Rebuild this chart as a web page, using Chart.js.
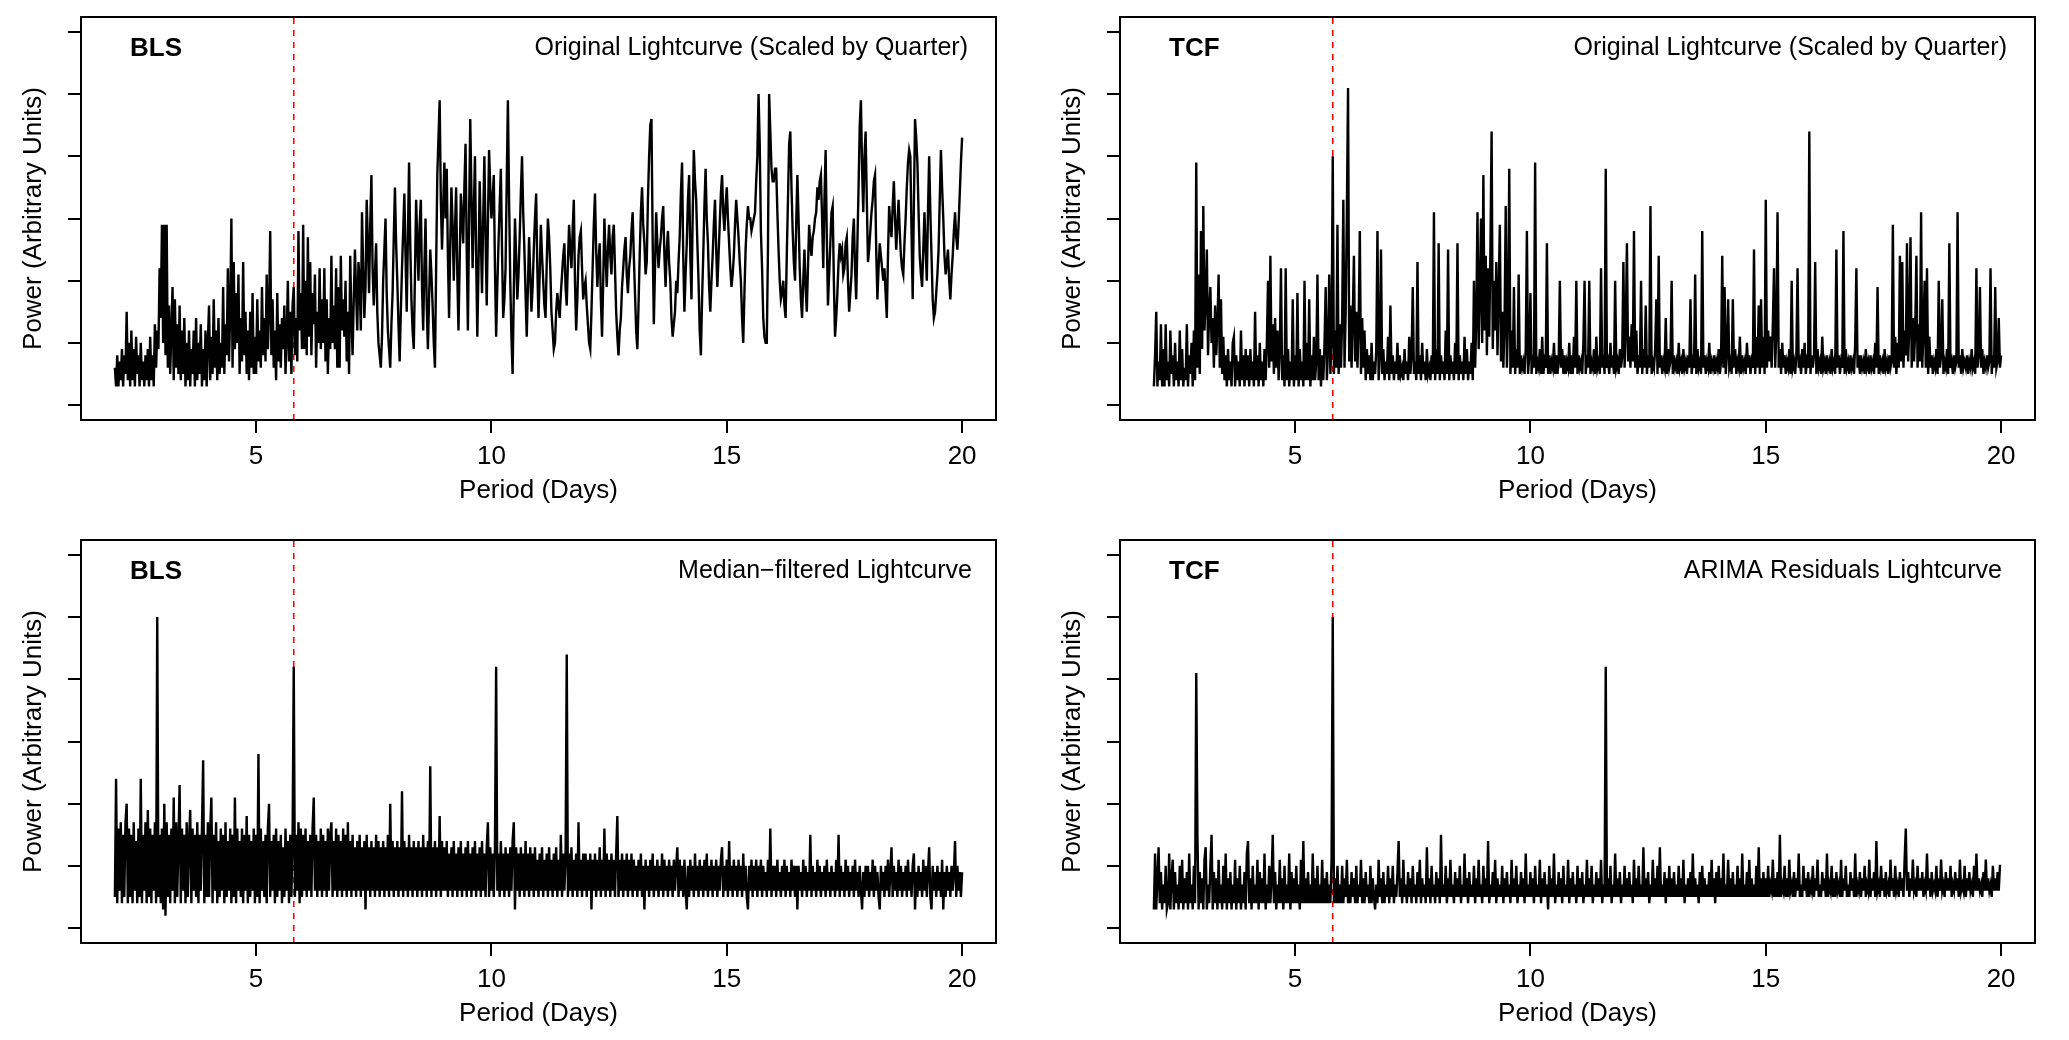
<!DOCTYPE html>
<html>
<head>
<meta charset="utf-8">
<script src="https://cdn.jsdelivr.net/npm/chart.js@4.4.1/dist/chart.umd.min.js"></script>
<style>
html,body{margin:0;padding:0;background:#fff;overflow:hidden;width:2069px;height:1040px;}
canvas{position:absolute;}
</style>
</head>
<body>
<script>
// ---- data (power in arbitrary units, sampled on a regular period grid starting at PERIOD_START) ----
const PERIOD_START = 2.0;
const PERIOD_STEP = 0.025;
const X_TICKS = [5, 10, 15, 20];
const Y_TICKS = [0, 10, 20, 30, 40, 50, 60];
const TRUE_PERIOD = 5.8;

const blsOriginal = [
6,3,8,3,7,4,9,3,8,5,15,4,10,3,12,4,9,3,11,5,8,3,10,4,7,3,8,4,9,3,11,4,8,3,13,6,12,9,22,14,
29,10,29,8,29,6,16,5,12,19,4,17,6,13,5,16,4,12,5,14,3,10,4,12,3,9,5,12,3,14,4,10,5,13,3,9,4,12,3,10,
16,4,11,5,17,6,12,4,14,5,10,6,19,5,13,8,22,7,15,30,6,23,9,18,10,21,5,14,7,23,8,15,5,12,4,15,6,18,5,11,
5,17,7,12,6,19,8,14,7,21,9,15,28,8,17,6,12,4,18,7,13,6,14,9,16,5,11,20,7,15,5,16,19,8,14,7,28,12,18,9,
29,9,20,8,27,11,23,8,18,13,21,6,15,10,22,9,17,10,22,7,17,5,14,9,24,10,16,9,22,6,19,6,24,12,17,11,20,7,15,5,
24,14,8,17,25,18,12,23,20,12,31,22,14,19,33,26,18,29,37,22,16,21,26,15,10,8,6,11,20,25,30,18,12,9,6,13,18,27,35,26,
20,13,7,15,22,28,34,24,15,27,39,26,17,12,9,21,33,26,20,29,33,19,12,22,30,16,9,17,25,21,16,10,6,22,37,43,49,33,25,32,
39,30,38,24,14,26,35,29,20,28,35,21,12,23,34,30,26,35,42,25,12,30,46,34,22,31,40,24,11,22,36,27,18,30,40,27,16,29,41,35,
30,33,37,22,11,19,26,32,38,25,14,17,22,36,49,33,20,11,5,18,30,24,17,21,27,34,40,31,25,18,11,19,27,21,15,19,25,30,34,22,
14,21,29,24,20,16,14,23,30,27,22,15,12,9,10,15,18,16,14,18,21,24,26,19,16,23,29,25,22,28,33,20,12,17,24,27,28,22,17,19,
20,16,13,10,9,15,22,29,34,25,19,23,26,17,11,20,30,24,19,25,29,24,21,27,29,22,15,11,8,12,14,19,22,25,27,21,18,22,24,28,
31,24,18,12,9,16,24,31,35,29,26,21,23,33,40,45,46,27,13,22,31,26,22,25,27,30,32,24,19,25,28,23,20,14,11,13,15,20,18,23,
27,34,39,24,15,21,26,33,37,24,17,30,41,36,33,26,20,12,8,17,24,32,38,30,26,19,15,20,24,29,33,25,19,24,29,34,37,31,28,32,
35,30,26,22,19,21,24,29,33,30,27,23,20,14,10,18,25,29,32,30,30,28,29,30,31,36,40,50,42,28,22,14,11,10,10,25,50,44,38,36,
36,38,38,31,25,20,17,18,20,16,14,24,33,42,44,35,28,23,20,29,37,30,22,17,14,20,25,19,15,22,29,26,24,27,28,30,31,35,33,36,
37,30,22,33,41,27,16,21,26,31,32,20,11,14,18,23,26,24,25,21,22,26,27,20,15,18,21,27,30,22,17,26,35,45,49,38,31,40,44,33,
23,25,28,31,33,36,37,25,17,22,26,24,22,20,22,18,14,24,32,29,27,32,36,30,25,29,33,28,24,22,21,26,30,35,39,41,40,28,17,32,
46,43,39,31,24,21,19,25,31,25,20,31,40,31,24,17,14,15,18,21,25,33,41,35,30,24,21,23,25,20,17,21,24,28,31,27,25,29,34,39,
43];

const tcfOriginal = [
3,8,15,3,7,4,13,3,9,3,13,4,7,3,12,5,8,3,10,4,7,3,12,4,9,3,6,4,13,3,8,5,10,3,12,4,39,6,21,5,
28,9,32,12,17,25,8,15,19,10,14,6,16,8,13,21,6,17,5,11,4,8,3,9,4,7,3,10,11,3,8,4,7,3,12,4,8,3,9,4,
8,3,9,4,7,3,15,4,8,3,10,4,7,3,9,4,10,20,6,24,7,13,5,14,6,12,4,9,22,4,8,3,22,4,9,3,7,4,17,3,
8,4,18,3,9,4,7,3,20,4,10,4,17,3,8,4,11,4,7,21,4,9,3,8,4,10,19,4,9,21,5,11,40,5,12,6,29,5,13,6,
14,33,6,15,31,51,7,16,6,14,24,7,15,6,13,28,5,14,6,12,4,9,5,8,4,10,4,7,5,9,28,4,8,25,5,9,4,7,5,11,
4,16,5,8,4,7,5,10,4,8,5,6,4,9,5,7,4,11,5,8,19,5,7,4,23,5,8,4,10,5,7,4,9,5,6,4,8,5,31,4,
9,5,26,4,8,5,7,4,12,5,25,4,8,5,7,4,10,5,26,4,8,5,7,4,11,5,9,4,7,5,10,4,20,6,14,31,9,18,30,10,
37,12,24,8,22,11,25,44,9,20,12,23,8,18,29,7,15,6,13,32,6,14,38,5,12,6,19,5,9,6,21,5,8,6,7,5,9,28,5,8,
18,5,8,6,39,5,7,6,9,5,11,5,7,6,26,5,8,5,7,6,10,5,8,5,7,20,6,9,5,8,5,7,6,10,5,8,5,11,6,20,
5,8,6,7,5,10,20,5,8,6,20,5,7,6,9,5,11,6,7,5,22,6,8,5,38,6,7,5,10,6,8,5,20,6,7,5,9,6,8,23,
6,12,26,7,11,6,13,7,28,6,12,5,8,6,20,5,9,6,16,5,8,6,32,5,7,6,9,17,5,24,6,8,5,7,6,14,5,9,6,7,
20,5,8,6,7,5,10,6,7,5,9,6,7,5,8,6,17,5,7,6,21,5,9,6,7,5,28,6,8,5,7,6,10,5,7,6,8,5,7,6,
9,5,7,24,6,19,5,8,17,6,7,5,17,6,9,5,7,6,11,5,8,6,7,5,10,6,8,5,7,6,25,5,11,6,16,5,17,6,11,5,
33,6,12,7,11,6,13,22,6,12,31,6,9,5,10,6,8,5,7,6,9,5,20,6,7,5,8,22,6,7,5,9,6,10,5,7,6,44,5,8,
6,8,23,5,9,6,7,5,11,6,7,5,8,6,7,5,9,6,7,5,25,6,8,5,7,6,28,5,9,6,7,5,8,6,7,5,10,22,6,8,
5,8,6,7,5,9,6,7,5,8,6,7,5,10,6,19,5,8,6,7,5,9,6,7,5,8,6,7,29,6,11,5,10,6,24,7,23,6,12,8,
26,7,13,27,6,14,7,12,24,6,13,7,31,6,12,20,6,22,5,11,6,8,5,7,6,9,5,20,6,8,17,5,7,6,9,5,26,6,7,5,
8,6,7,31,6,8,5,9,6,7,6,8,5,7,6,9,6,7,5,22,6,8,19,6,9,5,7,6,8,6,7,22,5,8,6,19,6,7,14,6,
8];

const blsMedian = [
5,24,4,16,6,17,4,15,5,17,20,4,16,5,15,4,17,6,14,4,16,5,24,4,15,6,17,4,19,5,16,4,15,6,17,4,50,5,15,4,
16,3,20,2,17,5,15,4,16,6,21,4,17,5,14,23,4,16,6,15,4,17,5,14,19,4,16,6,15,5,17,4,15,6,16,27,4,15,5,17,
5,16,21,4,15,6,17,4,14,5,16,6,15,4,17,5,14,6,16,4,15,5,21,4,16,6,14,5,16,4,15,6,18,4,15,5,14,6,16,4,
15,5,28,4,16,6,14,5,15,4,16,20,5,14,6,15,4,16,5,14,6,15,4,13,5,16,6,14,4,15,5,14,42,5,15,6,17,4,16,5,
15,6,16,5,14,6,15,5,16,21,6,15,5,14,6,16,5,15,6,14,5,16,6,15,17,5,14,6,16,5,15,6,14,5,16,6,15,5,17,6,
14,5,15,6,13,5,14,6,15,5,13,6,14,3,15,6,13,5,14,6,13,5,15,6,14,5,13,6,14,5,13,6,15,5,20,6,14,5,13,6,
14,5,13,6,22,5,14,6,13,5,15,6,13,5,14,6,13,5,14,6,13,5,15,6,13,5,14,6,26,5,13,6,14,5,13,6,18,5,14,6,
13,6,14,5,12,6,13,5,14,6,12,5,13,6,14,5,12,6,13,5,14,6,12,5,13,6,14,5,12,6,13,5,14,6,12,5,13,17,5,13,
6,12,5,13,42,6,12,5,14,6,12,5,13,6,12,5,13,6,14,17,3,13,6,12,5,13,6,12,5,14,6,12,5,13,6,12,5,13,6,11,
5,12,6,13,5,11,6,12,5,13,6,11,5,12,6,13,5,11,6,15,5,12,6,11,44,5,12,6,13,5,11,6,12,5,17,6,11,5,12,6,
12,5,11,6,12,3,11,6,12,5,11,6,13,5,11,6,16,5,12,6,11,5,12,6,11,5,12,18,5,11,6,12,5,11,6,12,5,11,6,12,
5,11,6,10,5,11,6,12,5,10,3,11,6,10,5,11,6,12,5,10,6,11,5,10,6,12,5,11,6,10,5,11,6,10,5,11,6,10,13,5,
11,6,10,5,11,6,3,10,5,11,6,10,5,12,6,10,5,11,6,10,5,11,6,12,5,10,6,11,5,10,6,11,5,10,6,11,13,5,10,6,
11,5,14,6,10,5,11,6,10,5,11,6,10,5,12,6,10,5,3,10,6,11,5,10,6,11,5,10,6,11,5,10,6,9,5,11,6,16,5,10,
6,10,5,11,6,9,5,10,6,11,5,10,6,9,5,11,6,10,5,10,3,10,6,9,5,11,6,10,5,9,6,15,5,10,6,9,5,11,6,10,
5,9,6,10,5,11,6,9,5,10,6,9,5,11,6,15,5,10,6,9,5,11,6,10,5,9,6,10,5,11,6,9,5,10,6,3,9,5,10,6,
10,5,9,6,11,5,10,6,9,5,3,10,6,9,5,10,6,11,5,9,13,5,10,6,9,5,11,6,10,5,9,6,10,5,11,6,9,5,10,12,
3,9,5,10,6,9,5,11,6,10,5,9,13,5,3,10,6,9,5,10,6,9,5,11,3,9,5,10,6,9,5,10,6,9,14,5,10,6,9,5,
9];

const tcfArima = [
3,12,3,8,13,4,9,3,7,4,10,3,4,12,3,8,11,3,9,4,7,3,10,4,11,3,8,4,9,3,12,4,7,3,10,4,41,15,3,9,
4,8,3,11,13,3,7,4,10,15,3,9,4,8,3,11,4,7,3,10,4,12,3,8,4,9,3,7,4,11,3,8,4,10,3,7,4,9,3,12,
14,4,8,3,10,4,7,4,11,3,9,4,8,4,12,3,7,4,10,4,8,15,4,9,3,7,4,11,4,8,3,10,4,7,4,12,3,9,4,8,
4,10,4,7,3,11,4,14,4,8,4,9,4,7,4,12,4,8,4,10,4,7,4,11,4,8,4,9,4,7,4,11,50,4,8,4,10,4,7,4,
10,4,8,5,11,4,7,4,9,5,8,4,10,4,7,5,11,4,8,4,9,5,7,4,10,4,8,5,3,7,4,11,5,8,4,9,4,7,5,10,
4,8,5,10,4,7,5,9,14,5,8,4,11,5,7,4,9,5,8,4,10,5,7,4,9,5,11,4,8,5,7,4,13,5,8,4,10,5,7,4,
9,5,8,4,15,5,7,5,10,4,8,5,11,5,7,4,9,5,8,5,10,4,7,5,12,5,8,4,9,5,7,5,10,4,8,5,11,5,7,4,
10,5,8,5,14,4,7,5,9,5,11,4,8,5,7,5,10,4,8,5,9,5,7,4,11,5,8,5,10,4,7,5,9,5,8,4,12,5,7,5,
9,5,8,4,10,5,7,5,11,4,8,5,9,5,7,3,10,5,8,5,12,4,7,5,9,5,8,4,10,5,7,5,11,4,8,5,9,5,7,4,
10,5,8,5,9,4,7,5,11,5,8,5,10,4,7,5,9,5,8,5,11,4,7,5,42,5,8,5,10,4,7,5,12,5,8,5,9,4,7,5,
10,5,8,5,9,5,7,4,11,5,8,5,10,5,7,5,13,5,8,5,9,4,7,5,11,5,8,5,10,5,13,5,7,5,9,4,8,5,10,5,
8,5,9,5,7,5,10,5,8,5,11,4,7,5,8,5,9,5,12,5,8,5,7,4,9,5,10,5,8,5,7,5,9,5,11,5,8,4,9,5,
10,5,8,5,12,5,7,5,11,5,8,5,9,5,7,5,10,5,8,5,12,5,7,5,9,5,11,5,8,5,7,5,10,5,13,5,8,5,9,5,
8,5,10,5,7,6,11,5,8,5,9,5,15,5,7,6,10,5,8,5,11,6,7,5,9,5,8,6,12,5,7,5,10,6,8,5,9,5,7,6,
10,5,8,6,11,5,7,5,9,6,8,5,12,5,7,6,10,5,8,5,9,6,7,5,11,5,8,6,10,5,7,5,9,6,8,5,12,5,7,6,
9,5,8,6,10,5,7,6,11,5,8,6,9,5,14,6,7,5,10,6,8,5,9,6,7,5,11,6,8,5,10,6,7,5,9,6,8,5,11,16,
6,9,5,8,6,11,6,7,5,10,6,8,6,9,5,7,6,12,6,8,5,9,6,7,6,10,5,8,6,11,6,7,5,9,6,8,6,10,5,7,
6,9,6,8,5,11,6,7,6,10,5,8,6,9,6,7,5,10,6,12,6,8,6,7,5,9,6,11,6,8,6,7,5,10,6,8,6,9,6,10,
10];

// ---- layout / style ----
const FONT = "'Liberation Sans', Arial, Helvetica, sans-serif";
const X_MIN = 1.28, X_MAX = 20.72, Y_MIN = -2.4, Y_MAX = 62.4;

const PANELS = [
  {left: 0,    top: 0,   method: 'BLS', label: 'Original Lightcurve (Scaled by Quarter)', labelRight: 968, values: blsOriginal},
  {left: 1039, top: 0,   method: 'TCF', label: 'Original Lightcurve (Scaled by Quarter)', labelRight: 968, values: tcfOriginal},
  {left: 0,    top: 523, method: 'BLS', label: 'Median\u2212filtered Lightcurve',          labelRight: 972, values: blsMedian},
  {left: 1039, top: 523, method: 'TCF', label: 'ARIMA Residuals Lightcurve',               labelRight: 963, values: tcfArima}
];

const framePlugin = {
  id: 'rframe',
  afterDraw(chart, args, opts) {
    const {ctx, chartArea: a} = chart;
    ctx.save();
    ctx.strokeStyle = '#000';
    ctx.lineWidth = 2;
    ctx.strokeRect(a.left, a.top, a.right - a.left, a.bottom - a.top);
    ctx.fillStyle = '#000';
    ctx.textBaseline = 'middle';
    ctx.textAlign = 'left';
    ctx.font = 'bold 26px ' + FONT;
    ctx.fillText(opts.method, 130, 49);
    ctx.textAlign = 'right';
    ctx.font = '25px ' + FONT;
    ctx.fillText(opts.label, opts.labelRight, 48);
    ctx.restore();
  }
};

PANELS.forEach((p) => {
  const cv = document.createElement('canvas');
  cv.width = 1030; cv.height = 520;
  cv.style.left = p.left + 'px';
  cv.style.top = p.top + 'px';
  document.body.appendChild(cv);

  const series = p.values.map((v, i) => ({x: PERIOD_START + i * PERIOD_STEP, y: v}));

  new Chart(cv.getContext('2d'), {
    type: 'line',
    data: {
      datasets: [
        {data: series, borderColor: '#000', borderWidth: 2.4, pointRadius: 0, tension: 0, fill: false, order: 1},
        {data: [{x: TRUE_PERIOD, y: Y_MIN}, {x: TRUE_PERIOD, y: Y_MAX}], borderColor: '#ff0000', borderWidth: 1.6,
         borderDash: [6, 6], pointRadius: 0, fill: false, order: 2}
      ]
    },
    options: {
      responsive: false,
      animation: false,
      devicePixelRatio: 1,
      events: [],
      layout: {padding: {top: 17, right: 34, left: 0, bottom: 0}},
      plugins: {
        legend: {display: false},
        tooltip: {enabled: false},
        rframe: {method: p.method, label: p.label, labelRight: p.labelRight}
      },
      scales: {
        x: {
          type: 'linear', min: X_MIN, max: X_MAX, position: 'bottom',
          afterBuildTicks: s => { s.ticks = X_TICKS.map(v => ({value: v})); },
          afterFit: s => { s.height = 100; },
          ticks: {font: {family: FONT, size: 26}, color: '#000', padding: 8, maxRotation: 0, autoSkip: false},
          grid: {display: true, drawOnChartArea: false, drawTicks: true, tickLength: 13, color: '#000', lineWidth: 2},
          border: {display: false},
          title: {display: true, text: 'Period (Days)', font: {family: FONT, size: 26}, color: '#000', padding: {top: 0, bottom: 14}}
        },
        y: {
          type: 'linear', min: Y_MIN, max: Y_MAX, position: 'left',
          afterBuildTicks: s => { s.ticks = Y_TICKS.map(v => ({value: v})); },
          afterFit: s => { s.width = 81; },
          ticks: {display: false},
          grid: {display: true, drawOnChartArea: false, drawTicks: true, tickLength: 13, color: '#000', lineWidth: 2},
          border: {display: false},
          title: {display: true, text: 'Power (Arbitrary Units)', font: {family: FONT, size: 26}, color: '#000', padding: {top: 18, bottom: 0}}
        }
      }
    },
    plugins: [framePlugin]
  });
});
</script>
</body>
</html>
